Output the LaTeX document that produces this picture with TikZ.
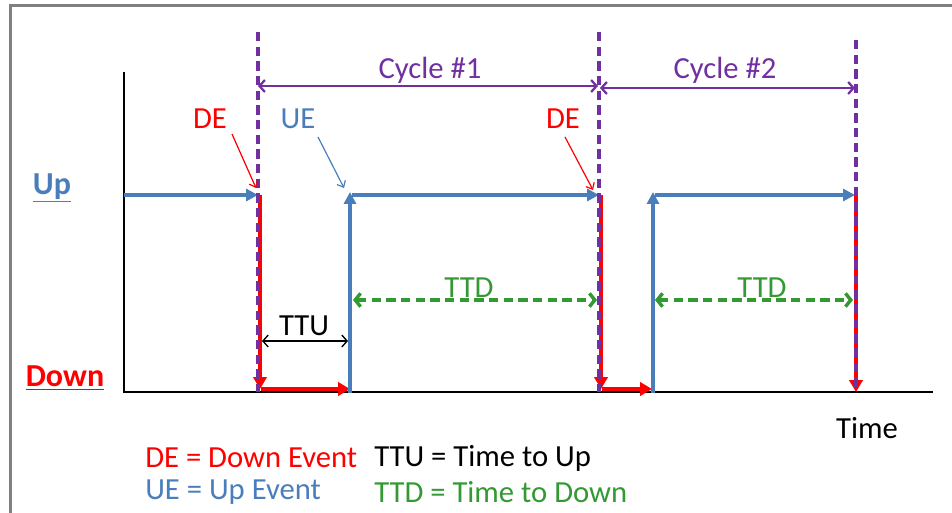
\documentclass[tikz,border=0pt]{standalone}
\usepackage{fontspec}
\setmainfont{Carlito}
\usetikzlibrary{arrows.meta}
\definecolor{upblue}{HTML}{4A7EBB}
\definecolor{dnred}{HTML}{FF0000}
\definecolor{cypurple}{HTML}{7030A0}
\definecolor{ttdgreen}{HTML}{339933}
\definecolor{framegray}{HTML}{808080}
\begin{document}
\begin{tikzpicture}[x=0.75pt,y=-0.75pt,
  txt/.style={inner sep=0pt,font=\fontsize{23}{27}\selectfont},
  bluearr/.style={upblue,line width=3pt,-{Triangle[length=9pt,width=9pt]}},
  redarr/.style={dnred,line width=3pt,-{Triangle[length=9pt,width=10pt]}},
  cyc/.style={cypurple,line width=2.7pt,dash pattern=on 7pt off 4pt},
  cycarr/.style={cypurple,line width=1.7pt,{Straight Barb[length=4pt,width=9pt]}-{Straight Barb[length=4pt,width=9pt]}},
  ttuarr/.style={black,line width=1pt,{Straight Barb[length=4pt,width=9pt]}-{Straight Barb[length=4pt,width=9pt]}},
  ttdarr/.style={ttdgreen,line width=2.6pt,dash pattern=on 7pt off 4pt,{Straight Barb[length=4pt,width=10pt]}-{Straight Barb[length=4pt,width=10pt]}},
  evarr/.style={line width=0.9pt,-{Straight Barb[length=4pt,width=7pt]}}
]
\useasboundingbox (0,0) rectangle (952,513);
% frame
\draw[framegray,line width=2.2pt] (10.5,513) -- (10.5,5.3) -- (952,5.3);

% coordinates
\coordinate (ax0) at (124,72);
\coordinate (ax1) at (124,392);
\coordinate (ax2) at (933,392);
\coordinate (u0) at (124,195);
\coordinate (u1) at (258,195);
\coordinate (d1a) at (260,195);
\coordinate (d1b) at (260,389);
\coordinate (r1a) at (261,389);
\coordinate (r1b) at (350,389);
\coordinate (b1a) at (350,393);
\coordinate (b1b) at (350,192);
\coordinate (h1a) at (352,195);
\coordinate (h1b) at (599,195);
\coordinate (d2a) at (601,195);
\coordinate (d2b) at (601,389);
\coordinate (r2a) at (602,389);
\coordinate (r2b) at (652,389);
\coordinate (b2a) at (653,393);
\coordinate (b2b) at (653,192);
\coordinate (h2a) at (655,195);
\coordinate (h2b) at (855,195);
\coordinate (d3a) at (856,195);
\coordinate (d3b) at (856,392);

% axes
\draw[black,line width=2pt] (ax0) -- (ax1) -- (ax2);

% signal
\draw[bluearr] (u0) -- (u1);
\draw[redarr] (d1a) -- (d1b);
\draw[redarr] (r1a) -- (r1b);
\draw[bluearr] (b1a) -- (b1b);
\draw[bluearr] (h1a) -- (h1b);
\draw[redarr] (d2a) -- (d2b);
\draw[redarr] (r2a) -- (r2b);
\draw[bluearr] (b2a) -- (b2b);
\draw[bluearr] (h2a) -- (h2b);
\draw[redarr] (d3a) -- (d3b);

% cycle markers
\coordinate (c1t) at (258,32);
\coordinate (c1b) at (258,392);
\coordinate (c2t) at (599,32);
\coordinate (c2b) at (599,392);
\coordinate (c3t) at (856,40);
\coordinate (c3b) at (856,392);
\draw[cyc] (c1t) -- (c1b);
\draw[cyc] (c2t) -- (c2b);
\draw[cyc] (c3t) -- (c3b);

\coordinate (k1a) at (258,86);
\coordinate (k1b) at (598,86);
\coordinate (k2a) at (600,88);
\coordinate (k2b) at (855,88);
\draw[cycarr] (k1a) -- (k1b);
\draw[cycarr] (k2a) -- (k2b);
\node[txt,text=cypurple] (cy1) at (430,70) {Cycle \#1};
\node[txt,text=cypurple] (cy2) at (725,70) {Cycle \#2};

% event labels
\node[txt,text=dnred] (de1) at (210,119) {DE};
\node[txt,text=upblue] (ue1) at (298,119) {UE};
\node[txt,text=dnred] (de2) at (563,119) {DE};
\coordinate (de1t) at (256,188);
\coordinate (ue1t) at (344,188);
\coordinate (de2t) at (593,190);
\draw[evarr,dnred] (232,134) -- (de1t);
\draw[evarr,upblue] (318,137) -- (ue1t);
\draw[evarr,dnred] (565,137) -- (de2t);

% TTU / TTD
\coordinate (tu0) at (262,341);
\coordinate (tu1) at (348,341);
\draw[ttuarr] (tu0) -- (tu1);
\node[txt] (ttu) at (304,326) {TTU};
\coordinate (td0) at (353,300);
\coordinate (td1) at (597,300);
\draw[ttdarr] (td0) -- (td1);
\node[txt,text=ttdgreen] (ttd1) at (469,288) {TTD};
\coordinate (te0) at (655,300);
\coordinate (te1) at (853,300);
\draw[ttdarr] (te0) -- (te1);
\node[txt,text=ttdgreen] (ttd2) at (762,288) {TTD};

% level labels
\node[inner sep=0pt,text=upblue,font=\fontsize{24}{28}\selectfont\bfseries] (up) at (52,188) {\underline{Up}};
\node[inner sep=0pt,text=dnred,font=\fontsize{24}{28}\selectfont\bfseries] (down) at (65,378) {\underline{Down}};
\node[txt] (time) at (867,428) {Time};

% legend
\node[txt,text=dnred,anchor=west] (lg1) at (145,458) {DE = Down Event};
\node[txt,anchor=west] (lg2) at (374,458) {TTU = Time to Up};
\node[txt,text=upblue,anchor=west] (lg3) at (145,492) {UE = Up Event};
\node[txt,text=ttdgreen,anchor=west] (lg4) at (374,492) {TTD = Time to Down};
\end{tikzpicture}
\end{document}
